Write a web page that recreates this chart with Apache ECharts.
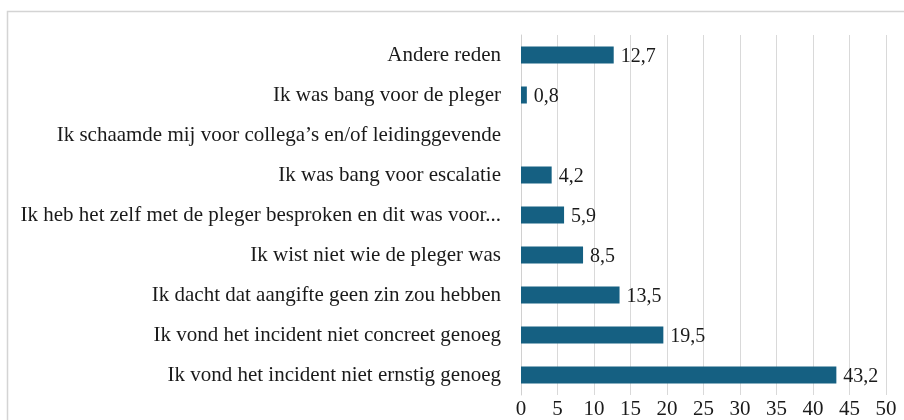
<!DOCTYPE html>
<html>
<head>
<meta charset="utf-8">
<script src="https://cdn.jsdelivr.net/npm/echarts@6/dist/echarts.min.js"></script>
<style>
    html, body { margin: 0; padding: 0; background: #fff; }
    #chart { width: 904px; height: 420px; }
</style>
</head>
<body>
<div id="chart"></div>
<script>
// categories, from bottom to top
var redenen = [
    'Ik vond het incident niet ernstig genoeg',
    'Ik vond het incident niet concreet genoeg',
    'Ik dacht dat aangifte geen zin zou hebben',
    'Ik wist niet wie de pleger was',
    'Ik heb het zelf met de pleger besproken en dit was voor...',
    'Ik was bang voor escalatie',
    'Ik schaamde mij voor collega\u2019s en/of leidinggevende',
    'Ik was bang voor de pleger',
    'Andere reden'
];
var percentages = [43.2, 19.5, 13.5, 8.5, 5.9, 4.2, 0, 0.8, 12.7];
var xTicks = [0, 5, 10, 15, 20, 25, 30, 35, 40, 45, 50];

var chart = echarts.init(document.getElementById('chart'));

var option = {
    animation: false,
    textStyle: { fontFamily: 'Liberation Serif' },
    graphic: [{
        type: 'rect',
        shape: { x: 7.5, y: 11.5, width: 1000, height: 1000 },
        style: { fill: 'none', stroke: '#d4d4d4', lineWidth: 1.5 },
        silent: true
    }],
    grid: { left: 521, right: 18, top: 35, bottom: 25 },
    xAxis: {
        type: 'value',
        min: xTicks[0],
        max: xTicks[xTicks.length - 1],
        interval: 5,
        axisLine: { show: false },
        axisTick: { show: false },
        splitLine: { show: true, lineStyle: { color: '#d9d9d9', width: 1 } },
        axisLabel: {
            color: '#1a1a1a',
            fontSize: 21,
            margin: 4,
            fontFamily: 'Liberation Serif'
        }
    },
    yAxis: {
        type: 'category',
        data: redenen,
        axisLine: { show: true, lineStyle: { color: '#d0d0d0', width: 1 } },
        axisTick: { show: false },
        axisLabel: {
            color: '#1a1a1a',
            fontSize: 21,
            margin: 20,
            fontFamily: 'Liberation Serif'
        }
    },
    series: [{
        type: 'bar',
        data: percentages,
        barWidth: 17,
        itemStyle: { color: '#156082' },
        label: {
            show: true,
            position: 'right',
            distance: 7,
            offset: [0, 2],
            color: '#1a1a1a',
            fontSize: 20,
            fontFamily: 'Liberation Serif',
            formatter: function (p) {
                if (!p.value) return '';
                return p.value.toFixed(1).replace('.', ',');
            }
        }
    }]
};
chart.setOption(option);
</script>
</body>
</html>
